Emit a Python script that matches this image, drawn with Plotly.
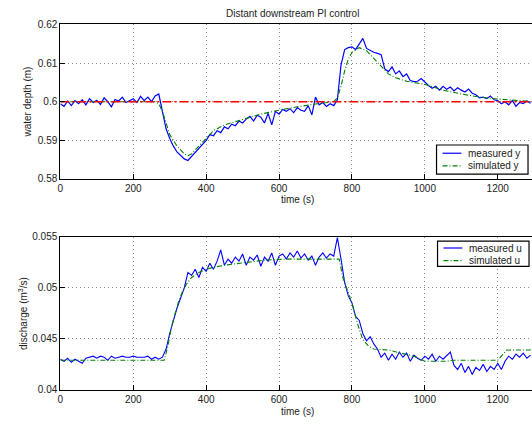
import plotly.graph_objects as go

# ---------------- data ----------------
t_meas = list(range(0, 1300, 10))  # sample times (s)

y_meas = [
    0.5995, 0.5988, 0.6002, 0.5990, 0.6003, 0.5995, 0.6005, 0.5992, 0.6008, 0.5998,
    0.6004, 0.5993, 0.6010, 0.6000, 0.5987, 0.6006, 0.6002, 0.6012, 0.5998, 0.6003,
    0.6008, 0.5998, 0.6014, 0.6003, 0.6012, 0.6000, 0.6015, 0.6020, 0.5975, 0.5930,
    0.5905, 0.5885, 0.5870, 0.5860, 0.5852, 0.5848, 0.5858, 0.5870, 0.5880, 0.5888,
    0.5900, 0.5915, 0.5912, 0.5925, 0.5920, 0.5935, 0.5930, 0.5942, 0.5938, 0.5950,
    0.5945, 0.5955, 0.5962, 0.5950, 0.5965, 0.5960, 0.5945, 0.5970, 0.5940, 0.5975,
    0.5968, 0.5980, 0.5975, 0.5982, 0.5972, 0.5985, 0.5978, 0.5975, 0.5990, 0.5966,
    0.6012, 0.5992, 0.5998, 0.5988, 0.5995, 0.5990, 0.6005, 0.6095, 0.6135, 0.6140,
    0.6142, 0.6135, 0.6148, 0.6164, 0.6138, 0.6132, 0.6128, 0.6125, 0.6122, 0.6085,
    0.6078, 0.6090, 0.6072, 0.6080, 0.6065, 0.6072, 0.6055, 0.6052, 0.6053, 0.6060,
    0.6050, 0.6042, 0.6035, 0.6040, 0.6030, 0.6040, 0.6032, 0.6038, 0.6028, 0.6036,
    0.6030, 0.6025, 0.6033, 0.6022, 0.6018, 0.6010, 0.6012, 0.6008, 0.6015, 0.6005,
    0.6003, 0.5995, 0.6000, 0.5992, 0.6003, 0.5988, 0.5998, 0.5995, 0.6002, 0.5996,
]

t_sim_y = [0, 260, 270, 280, 290, 300, 320, 340, 350, 360, 380, 400, 420, 450, 500,
           550, 600, 650, 700, 750, 760, 770, 780, 790, 800, 820, 840, 860, 880, 900,
           920, 950, 1000, 1050, 1100, 1150, 1200, 1250, 1300]
y_sim = [0.6000, 0.6000, 0.5995, 0.5975, 0.5945, 0.5915, 0.5885, 0.5865, 0.5860, 0.5865,
         0.5885, 0.5905, 0.5925, 0.5940, 0.5955, 0.5968, 0.5978, 0.5987, 0.5994, 0.6000,
         0.6010, 0.6040, 0.6080, 0.6110, 0.6128, 0.6140, 0.6132, 0.6112, 0.6092, 0.6072,
         0.6062, 0.6053, 0.6045, 0.6030, 0.6020, 0.6012, 0.6007, 0.6003, 0.6000]

y_ref = 0.60
t_ref = [0, 1300]

u_meas = [
    0.0430, 0.0428, 0.0431, 0.0427, 0.0430, 0.0428, 0.0426, 0.0431, 0.0432, 0.0433,
    0.0431, 0.0433, 0.0432, 0.0429, 0.0433, 0.0431, 0.0432, 0.0433, 0.0432, 0.0432,
    0.0433, 0.0432, 0.0432, 0.0432, 0.0433, 0.0430, 0.0432, 0.0430, 0.0432, 0.0440,
    0.0455, 0.0468, 0.0480, 0.0490, 0.0500, 0.0515, 0.0512, 0.0518, 0.0510, 0.0520,
    0.0516, 0.0524, 0.0518, 0.0526, 0.0537, 0.0522, 0.0528, 0.0524, 0.0530, 0.0526,
    0.0533, 0.0522, 0.0530, 0.0527, 0.0532, 0.0521, 0.0530, 0.0526, 0.0534, 0.0522,
    0.0531, 0.0533, 0.0528, 0.0534, 0.0530, 0.0536, 0.0529, 0.0533, 0.0527, 0.0531,
    0.0522, 0.0530, 0.0534, 0.0529, 0.0533, 0.0531, 0.0549, 0.0528, 0.0505, 0.0492,
    0.0485, 0.0472, 0.0468, 0.0455, 0.0448, 0.0452, 0.0445, 0.0440, 0.0432, 0.0436,
    0.0429, 0.0435, 0.0430, 0.0437, 0.0432, 0.0436, 0.0428, 0.0434, 0.0431, 0.0429,
    0.0433, 0.0430, 0.0435, 0.0428, 0.0433, 0.0430, 0.0434, 0.0437, 0.0424, 0.0420,
    0.0426, 0.0417, 0.0423, 0.0415, 0.0422, 0.0419, 0.0425, 0.0418, 0.0423, 0.0420,
    0.0426, 0.0420, 0.0428, 0.0433, 0.0430, 0.0435, 0.0432, 0.0436, 0.0431, 0.0434,
]

t_sim_u = [0, 285, 295, 305, 315, 325, 335, 345, 360, 380, 400, 420, 450, 500, 560,
           620, 700, 765, 775, 790, 800, 815, 830, 845, 860, 900, 970, 1000, 1060,
           1080, 1200, 1225, 1300]
u_sim = [0.0429, 0.0429, 0.0443, 0.0462, 0.0475, 0.0487, 0.0496, 0.0503, 0.0510, 0.0515,
         0.0518, 0.0520, 0.0522, 0.0524, 0.0527, 0.0528, 0.0528, 0.0528, 0.0510, 0.0494,
         0.0485, 0.0465, 0.0449, 0.0443, 0.0440, 0.0439, 0.0433, 0.0428, 0.0428, 0.0429,
         0.0429, 0.0439, 0.0439]

x_ticks = [0, 200, 400, 600, 800, 1000, 1200]
y_ticks_top = [0.58, 0.59, 0.60, 0.61, 0.62]
y_tick_text_top = ["0.58", "0.59", "0.6", "0.61", "0.62"]
y_ticks_bot = [0.04, 0.045, 0.05, 0.055]
y_tick_text_bot = ["0.04", "0.045", "0.05", "0.055"]
legend_top = ["measured y", "simulated y"]
legend_bot = ["measured u", "simulated u"]

# ---------------- figure ----------------
W, H = 532, 427
FONT = "Liberation Sans, Arial, sans-serif"
TXT = "#222222"
BLUE = "#0000ff"
GREEN = "#008000"
RED = "#ff0000"
SIM_DASH = "5px,2px,1px,2px"
REF_DASH = "9px,3px,2px,3px"

fig = go.Figure()
fig.add_trace(go.Scatter(x=t_meas, y=y_meas, mode="lines", name=legend_top[0],
                         line=dict(color=BLUE, width=1.2)))
fig.add_trace(go.Scatter(x=t_sim_y, y=y_sim, mode="lines", name=legend_top[1],
                         line=dict(color=GREEN, width=1.1, dash=SIM_DASH)))
fig.add_trace(go.Scatter(x=t_ref, y=[y_ref, y_ref], mode="lines", name="reference",
                         line=dict(color=RED, width=1.3, dash=REF_DASH)))
fig.add_trace(go.Scatter(x=t_meas, y=u_meas, mode="lines", name=legend_bot[0],
                         line=dict(color=BLUE, width=1.1),
                         xaxis="x2", yaxis="y2"))
fig.add_trace(go.Scatter(x=t_sim_u, y=u_sim, mode="lines", name=legend_bot[1],
                         line=dict(color=GREEN, width=1.1, dash=SIM_DASH),
                         xaxis="x2", yaxis="y2"))

x_left = 57.7 / W
top_dom = [1 - 178 / H, 1 - 19 / H]
bot_dom = [1 - 395 / H, 1 - 237.3 / H]

axis_common = dict(showline=True, linecolor="black", linewidth=1.2,
                   ticks="inside", ticklen=5, tickcolor="black",
                   showgrid=True, gridcolor="#8a8a8a", griddash="1px,3px", gridwidth=1,
                   zeroline=False, tickfont=dict(family=FONT, size=10, color=TXT))

fig.update_layout(
    width=W, height=H,
    margin=dict(l=0, r=0, t=0, b=0),
    paper_bgcolor="white", plot_bgcolor="white",
    font=dict(family=FONT, size=10, color=TXT),
    showlegend=False,
    xaxis=dict(domain=[x_left, 1], range=[0, 1294], anchor="y", mirror=True,
               tickvals=x_ticks, **axis_common),
    yaxis=dict(domain=top_dom, range=[0.58, 0.62], anchor="x",
               tickvals=y_ticks_top, ticktext=y_tick_text_top, **axis_common),
    xaxis2=dict(domain=[x_left, 1], range=[0, 1294], anchor="y2", mirror=True,
                tickvals=x_ticks, **axis_common),
    yaxis2=dict(domain=bot_dom, range=[0.04, 0.055], anchor="x2",
                tickvals=y_ticks_bot, ticktext=y_tick_text_bot, **axis_common),
)


def px(x):
    return x / W


def py(y):
    return 1 - y / H


# custom legend boxes (pixel layout converted to paper coords)
def add_legend(box, rows, names):
    x0, y0, x1, y1 = box
    fig.add_shape(type="rect", xref="paper", yref="paper",
                  x0=px(x0), x1=px(x1), y0=py(y1), y1=py(y0),
                  line=dict(color="black", width=1.2), fillcolor="white", layer="above")
    styles = [dict(color=BLUE, width=1.2), dict(color=GREEN, width=1.1, dash=SIM_DASH)]
    for r, name, st in zip(rows, names, styles):
        fig.add_shape(type="line", xref="paper", yref="paper",
                      x0=px(x0 + 6), x1=px(x0 + 25), y0=py(r), y1=py(r),
                      line=st, layer="above")
        fig.add_annotation(xref="paper", yref="paper", x=px(x0 + 30), y=py(r),
                           xanchor="left", yanchor="middle", showarrow=False,
                           text=name, font=dict(family=FONT, size=10, color=TXT))


add_legend((436, 143, 528, 173), (151.5, 164.5), legend_top)
add_legend((437, 242, 529, 268), (249, 262), legend_bot)

annos = [
    dict(text="Distant downstream PI control", x=291 / W, y=1 - 8 / H),
    dict(text="time (s)", x=296 / W, y=1 - 199 / H),
    dict(text="time (s)", x=296 / W, y=1 - 417 / H),
    dict(text="water depth (m)", x=25 / W, y=1 - 98.5 / H, textangle=-90),
    dict(text="discharge (m<sup>3</sup>/s)", x=20 / W, y=1 - 316 / H, textangle=-90),
]
for a in annos:
    fig.add_annotation(xref="paper", yref="paper", xanchor="center", yanchor="middle",
                       showarrow=False, font=dict(family=FONT, size=10, color=TXT), **a)

fig.write_html("out.html")
